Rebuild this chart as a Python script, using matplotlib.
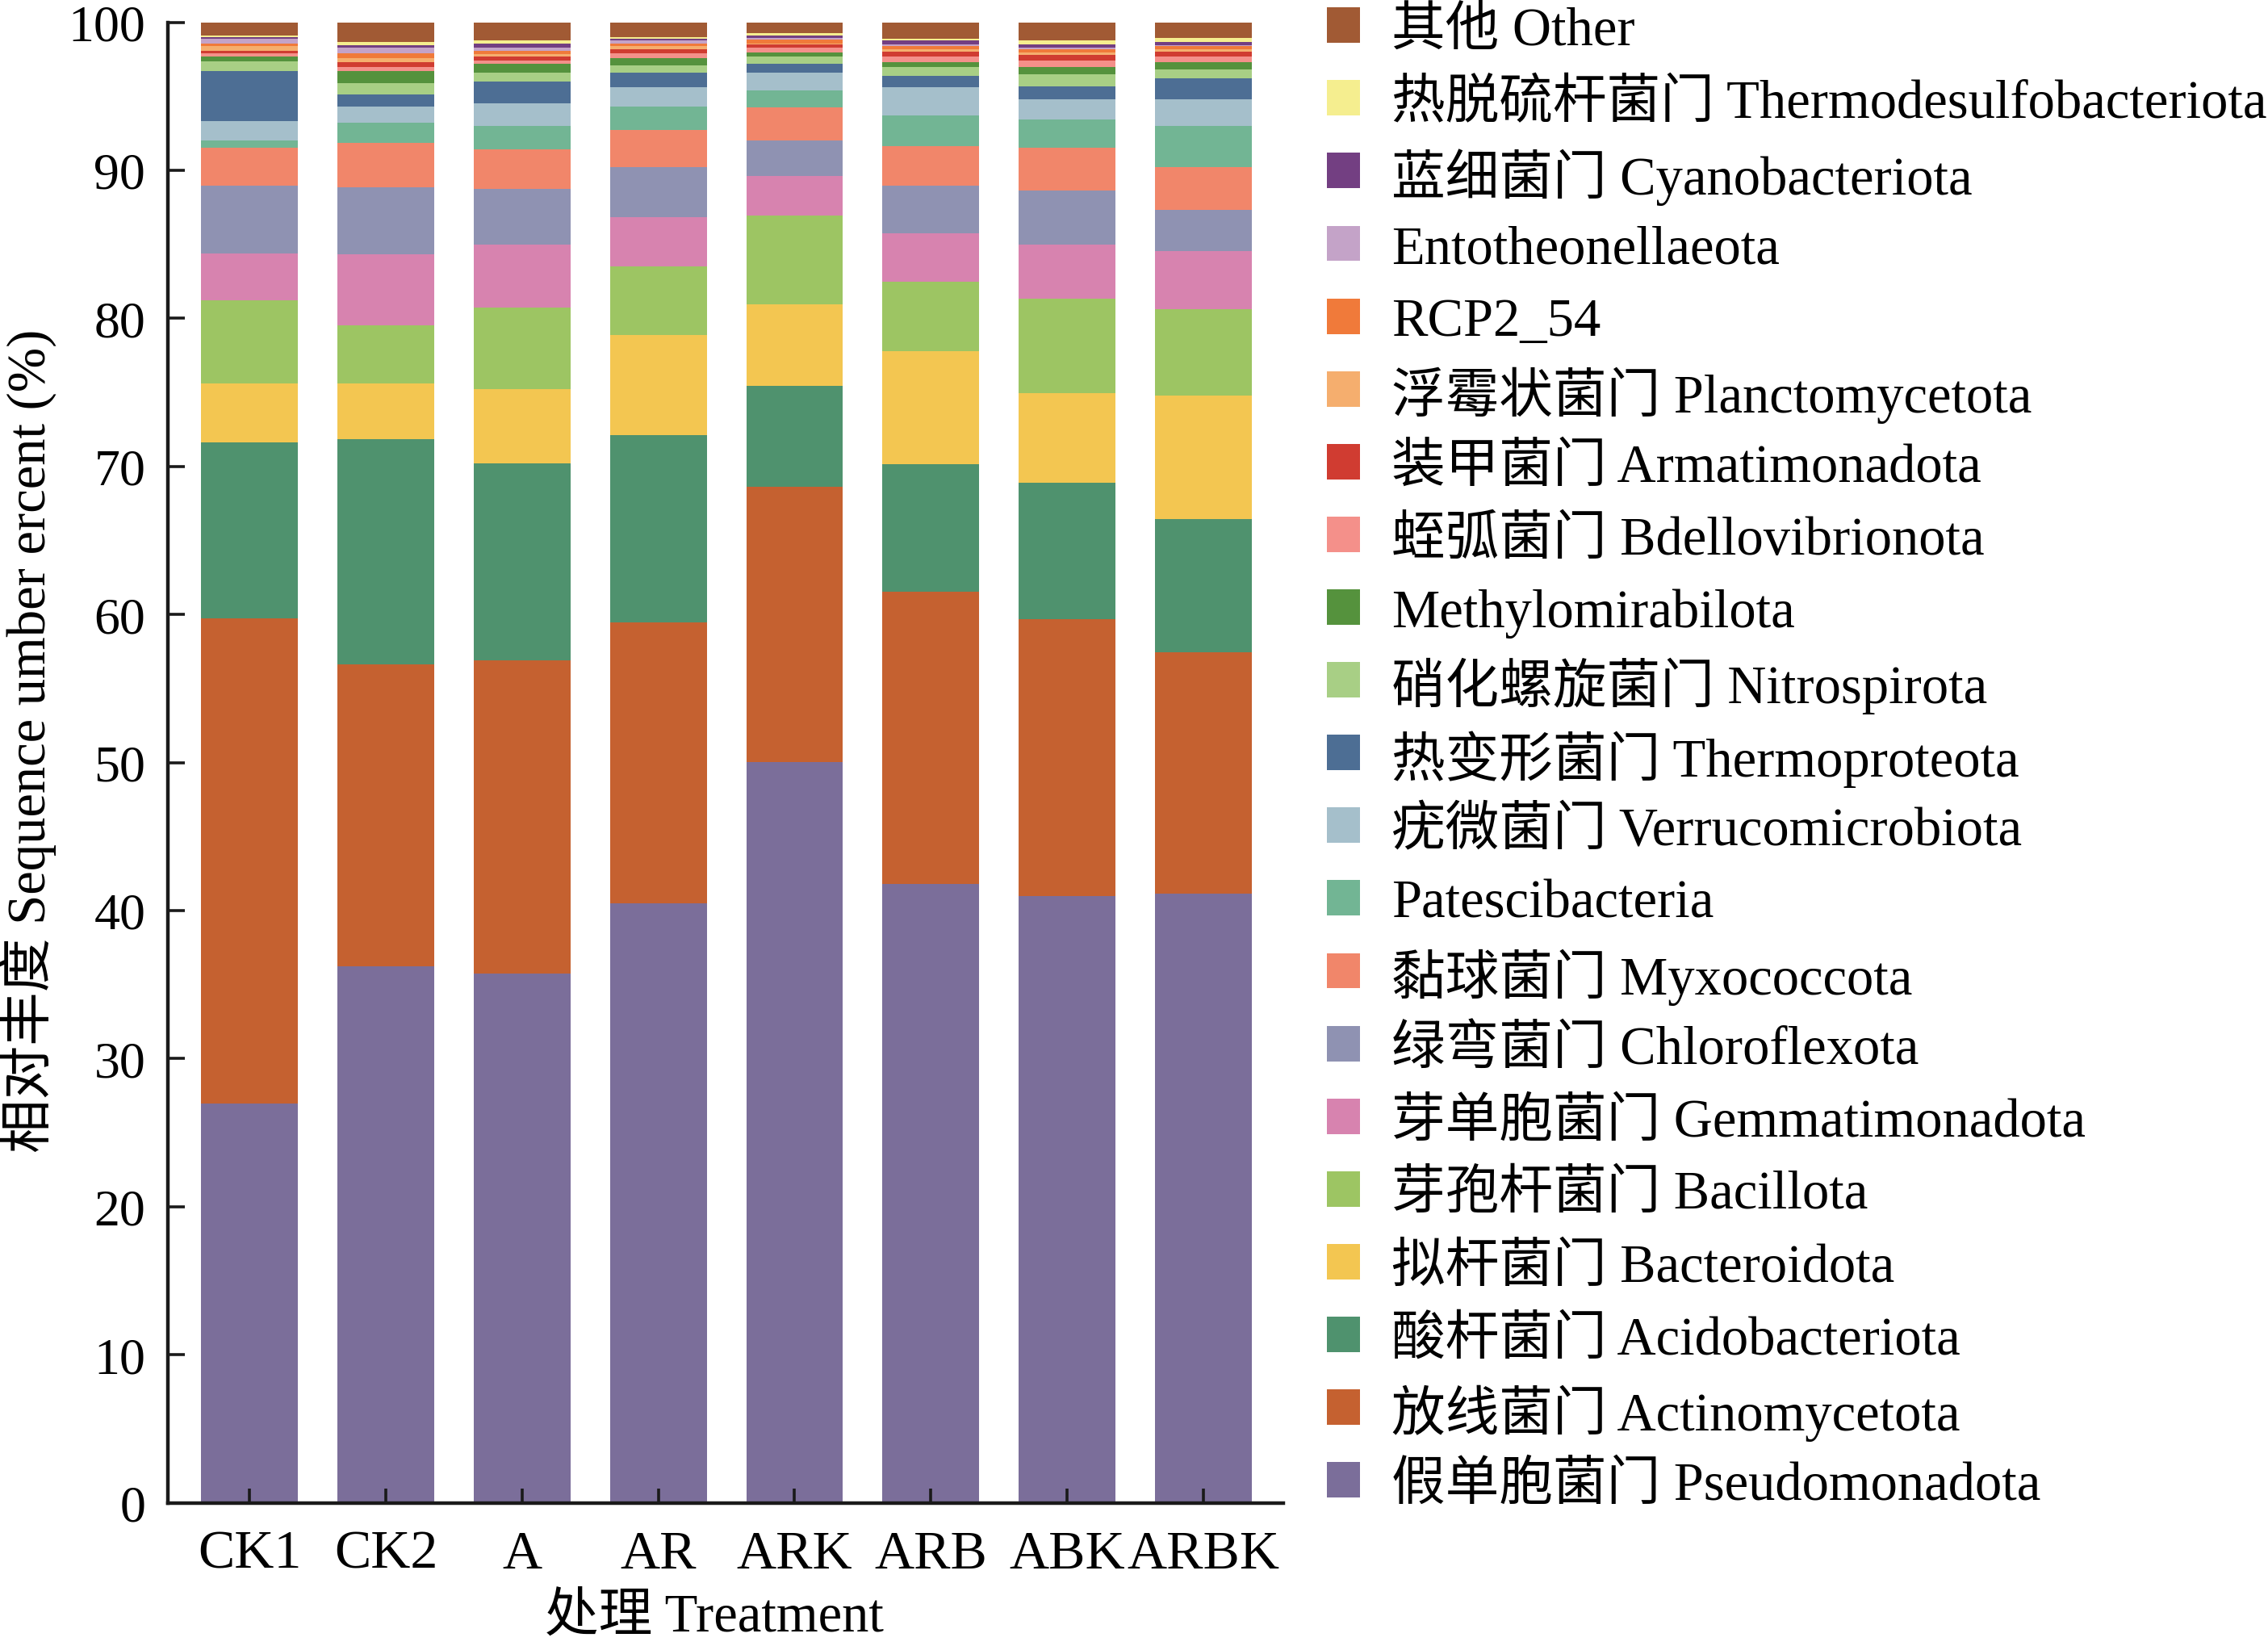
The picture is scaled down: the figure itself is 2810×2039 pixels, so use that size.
import numpy as np
import matplotlib
matplotlib.use("Agg")
import matplotlib.pyplot as plt
from matplotlib.patches import Rectangle

plt.rcParams["font.family"] = ["Liberation Serif", "Noto Sans CJK SC"]

# ── 数据 (%), 自下而上 ──────────────────────────────────────────────
samples = ["CK1", "CK2", "A", "AR", "ARK", "ARB", "ABK", "ARBK"]

phyla = [
    "假单胞菌门 Pseudomonadota",
    "放线菌门 Actinomycetota",
    "酸杆菌门 Acidobacteriota",
    "拟杆菌门 Bacteroidota",
    "芽孢杆菌门 Bacillota",
    "芽单胞菌门 Gemmatimonadota",
    "绿弯菌门 Chloroflexota",
    "黏球菌门 Myxococcota",
    "Patescibacteria",
    "疣微菌门 Verrucomicrobiota",
    "热变形菌门 Thermoproteota",
    "硝化螺旋菌门 Nitrospirota",
    "Methylomirabilota",
    "蛭弧菌门 Bdellovibrionota",
    "装甲菌门 Armatimonadota",
    "浮霉状菌门 Planctomycetota",
    "RCP2_54",
    "Entotheonellaeota",
    "蓝细菌门 Cyanobacteriota",
    "热脱硫杆菌门 Thermodesulfobacteriota",
    "其他 Other",
]

colors = [
    "#7b6e9a", "#c56130", "#4f926e", "#f3c651", "#9dc563", "#d783af",
    "#8f92b2", "#f1866a", "#72b594", "#a5bfcb", "#4d6e94", "#a8cf85",
    "#55923d", "#f4908a", "#d03c31", "#f5ae6e", "#f07a3a", "#c4a3c8",
    "#733f82", "#f5ee8f", "#a15a34",
]

#            CK1    CK2     A     AR    ARK    ARB    ABK   ARBK
abund = [
    [26.94, 36.22, 35.72, 40.47, 50.03, 41.78, 41.00, 41.14],
    [32.80, 20.40, 21.18, 18.98, 18.57, 19.76, 18.70, 16.29],
    [11.90, 15.23, 13.32, 12.69,  6.83,  8.61,  9.21,  9.00],
    [ 3.97,  3.76,  5.00,  6.73,  5.50,  7.62,  6.02,  8.36],
    [ 5.59,  3.93,  5.52,  4.62,  5.99,  4.68,  6.38,  5.81],
    [ 3.16,  4.77,  4.22,  3.32,  2.67,  3.27,  3.65,  3.92],
    [ 4.58,  4.52,  3.81,  3.38,  2.45,  3.22,  3.65,  2.78],
    [ 2.61,  3.01,  2.64,  2.56,  2.20,  2.69,  2.91,  2.91],
    [ 0.49,  1.35,  1.56,  1.58,  1.18,  2.10,  1.89,  2.76],
    [ 1.31,  1.14,  1.58,  1.26,  1.20,  1.86,  1.41,  1.85],
    [ 3.38,  0.77,  1.42,  1.03,  0.60,  0.81,  0.87,  1.37],
    [ 0.65,  0.81,  0.60,  0.49,  0.44,  0.55,  0.77,  0.60],
    [ 0.28,  0.77,  0.60,  0.49,  0.32,  0.38,  0.54,  0.49],
    [ 0.27,  0.32,  0.27,  0.33,  0.28,  0.38,  0.44,  0.43],
    [ 0.16,  0.33,  0.22,  0.22,  0.27,  0.33,  0.33,  0.33],
    [ 0.33,  0.22,  0.21,  0.27,  0.05,  0.16,  0.21,  0.16],
    [ 0.16,  0.38,  0.22,  0.16,  0.24,  0.17,  0.22,  0.17],
    [ 0.28,  0.33,  0.22,  0.22,  0.14,  0.16,  0.11,  0.10],
    [ 0.16,  0.21,  0.27,  0.11,  0.17,  0.22,  0.22,  0.22],
    [ 0.11,  0.22,  0.17,  0.11,  0.11,  0.16,  0.22,  0.27],
    [ 0.87,  1.31,  1.25,  0.98,  0.76,  1.09,  1.25,  1.04],
]

# ── 绘图 ──────────────────────────────────────────────────────────
fig = plt.figure(figsize=(14.05, 10.2), dpi=200)
ax = fig.add_axes([0.074, 0.087, 0.492, 0.899])

x = np.arange(len(samples))
bottom = np.zeros(len(samples))
for name, col, vals in zip(phyla, colors, abund):
    vals = np.array(vals)
    ax.bar(x, vals, width=0.71, bottom=bottom, color=col, linewidth=0,
           label=name)
    bottom += vals

ax.set_xlim(-0.6, 7.59)
ax.set_ylim(0, 100)
ax.set_yticks(np.arange(0, 101, 10))
ax.set_xticks(x)
ax.set_xticklabels(samples, fontsize=24.5)

for side in ("top", "right"):
    ax.spines[side].set_visible(False)
for side in ("left", "bottom"):
    ax.spines[side].set_linewidth(1.6)
    ax.spines[side].set_color("#1a1a1a")

ax.tick_params(axis="both", direction="in", width=1.3, color="#1a1a1a")
ax.tick_params(axis="y", labelsize=23, length=7.5, pad=10)
ax.tick_params(axis="x", length=6.5, pad=12)

ax.set_xlabel("处理 Treatment", fontsize=24, labelpad=6)
ax.xaxis.label.set_x(0.49)
ax.set_ylabel("相对丰度 Sequence umber ercent (%)", fontsize=24,
              labelpad=5)
ax.yaxis.label.set_y(0.515)

# ── 图例: 等间距手动排列 (上: 其他, 下: 假单胞菌门) ────────────────
row_top = 1 - 18 / 1140
row_step = 50.35 / 1140
box_w, box_h = 0.0147, 0.0215
for i, (name, col) in enumerate(zip(phyla[::-1], colors[::-1])):
    yc = row_top - i * row_step
    fig.patches.append(Rectangle((0.585, yc - box_h / 2), box_w, box_h,
                                 transform=fig.transFigure,
                                 facecolor=col, edgecolor="none"))
    fig.text(0.6135, yc, name, fontsize=24, ha="left", va="center_baseline")

fig.savefig("out.png", dpi=200, facecolor="white")
plt.close(fig)
